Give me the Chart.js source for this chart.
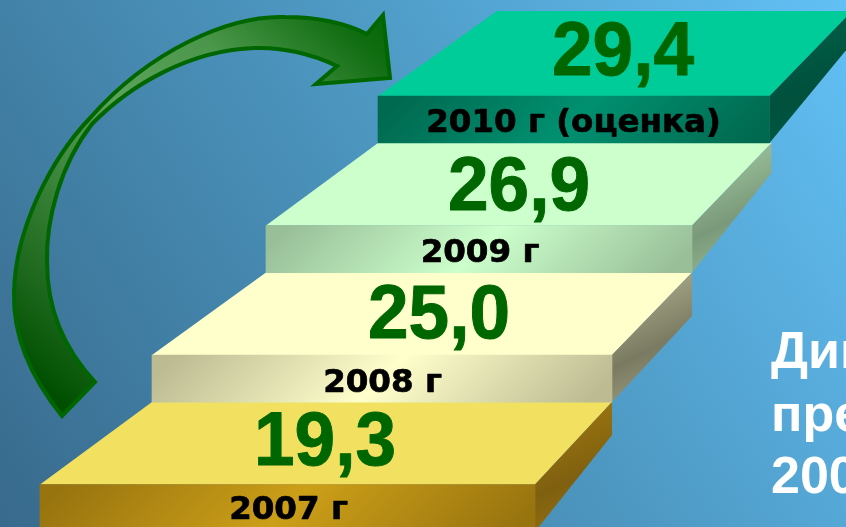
<!DOCTYPE html>
<html lang="ru">
<head>
<meta charset="utf-8">
<style>
  html, body { margin: 0; padding: 0; overflow: hidden; background: #4b94bd; }
  canvas { display: block; }
</style>
<script src="https://cdn.jsdelivr.net/npm/chart.js@4"></script>
</head>
<body>
<canvas id="grafico" width="846" height="527"></canvas>
<script>
// Данные
const anos = [2007, 2008, 2009, 2010];
const valores = [19.3, 25.0, 26.9, 29.4];
const rotulos = ["2007 г", "2008 г", "2009 г", "2010 г (оценка)"];
const textoLado = ["Дин", "пре", "200"];

// Onde cada degrau fica (layout, nao dados)
const degrauEsq = [40, 152, 266, 378];
const degrauDir = [535, 612, 692, 769.5];
const fundoDir = [612, 692, 771.5, 852];
const fundoDegrau = [435, 316, 173, 43];
const valorX = [325, 439, 519, 623];
const valorY = [465, 338, 210, 75];
const rotuloX = [288.5, 382.5, 480, 573.5];
const rotuloY = [519, 392, 262, 132];
const fundoTopo = { esq: 497, y: 11 };

const corTopo = ["#f2e060", "#ffffcc", "#ccffcc", "#00cc99"];
const corFrenteBorda = ["#98740f", "#bdbb92", "#99bf99", "#006a50"];
const corFrenteMeio = ["#cc9f18", "#ffffcc", "#ccffcc", "#009070"];
const corLadoBorda = ["#99730f", "#a3a384", "#99bf99", "#005f46"];
const corLadoMeio = ["#7f6010", "#7a7a62", "#7a997a", "#00503c"];

function gradienteFrente(context) {
  const chart = context.chart;
  const i = context.dataIndex;
  if (!chart.scales.x || i === undefined) return corFrenteMeio[0];
  const x0 = chart.scales.x.getPixelForValue(degrauEsq[i]);
  const x1 = chart.scales.x.getPixelForValue(degrauDir[i]);
  const y = chart.scales.y.getPixelForValue(anos[i]);
  if (!isFinite(x0) || !isFinite(x1) || !isFinite(y)) return corFrenteMeio[i];
  // faixa clara na diagonal
  const meio = (x0 + x1) / 2;
  const d = (x1 - x0) / 4;
  const g = chart.ctx.createLinearGradient(meio - d, y - d, meio + d, y + d);
  g.addColorStop(0, corFrenteBorda[i]);
  g.addColorStop(0.5, corFrenteMeio[i]);
  g.addColorStop(1, corFrenteBorda[i]);
  return g;
}

function poligono(ctx, pts, fill) {
  ctx.beginPath();
  ctx.moveTo(pts[0][0], pts[0][1]);
  pts.slice(1).forEach(p => ctx.lineTo(p[0], p[1]));
  ctx.closePath();
  ctx.fillStyle = fill;
  ctx.fill();
}

function desenharSeta(ctx) {
  ctx.beginPath();
  ctx.moveTo(62, 416);
  ctx.bezierCurveTo(25, 370, 13, 330, 14, 293);
  ctx.bezierCurveTo(15, 230, 50, 160, 90, 118);
  ctx.bezierCurveTo(150, 50, 230, 15, 285, 17);
  ctx.bezierCurveTo(315, 17, 345, 23, 367, 34);
  ctx.lineTo(383, 15);
  ctx.lineTo(390, 78);
  ctx.lineTo(316, 84);
  ctx.lineTo(337, 66);
  ctx.bezierCurveTo(310, 53, 280, 47, 255, 48);
  ctx.bezierCurveTo(190, 50, 130, 85, 92, 124);
  ctx.bezierCurveTo(60, 165, 46, 220, 47, 262);
  ctx.bezierCurveTo(47, 310, 65, 350, 95, 382);
  ctx.closePath();
  const g = ctx.createLinearGradient(70, 410, 420, 20);
  g.addColorStop(0, "#004f00");
  g.addColorStop(0.15, "#1f6a1f");
  g.addColorStop(0.5, "#5ca35c");
  g.addColorStop(0.7, "#4a964a");
  g.addColorStop(0.9, "#0f6c0f");
  g.addColorStop(1, "#006600");
  ctx.fillStyle = g;
  ctx.fill();
  ctx.lineWidth = 4;
  ctx.lineJoin = "miter";
  ctx.strokeStyle = "#006600";
  ctx.stroke();
}

const pluginEscada = {
  id: "escada",
  beforeDraw(chart) {
    const { ctx, width, height } = chart;
    const g = ctx.createLinearGradient(0, height, width, 0);
    g.addColorStop(0, "#386a8c");
    g.addColorStop(0.5, "#4b94bd");
    g.addColorStop(1, "#62c0f5");
    ctx.fillStyle = g;
    ctx.fillRect(0, 0, width, height);
  },
  beforeDatasetsDraw(chart) {
    const { ctx } = chart;
    const barras = chart.getDatasetMeta(0).data;
    barras.forEach((b, i) => {
      const p = b.getProps(["x", "y", "base", "height"], true);
      const topo = p.y - p.height / 2;
      const baixo = p.y + p.height / 2;
      const prox = barras[i + 1] ? barras[i + 1].getProps(["x", "y", "base", "height"], true) : null;
      const fundo = prox
        ? { esq: prox.base, dir: fundoDir[i], y: prox.y + prox.height / 2 }
        : { esq: fundoTopo.esq, dir: fundoDir[i], y: fundoTopo.y };
      // topo do degrau
      poligono(ctx, [[p.base, topo], [p.x, topo], [fundo.dir, fundo.y], [fundo.esq, fundo.y]], corTopo[i]);
      // lado direito
      const g = ctx.createLinearGradient(p.x + 25, fundo.y + 20, fundo.dir - 5, baixo - 5);
      g.addColorStop(0, corLadoBorda[i]);
      g.addColorStop(0.5, corLadoMeio[i]);
      g.addColorStop(1, corLadoBorda[i]);
      poligono(ctx, [[p.x, topo], [fundo.dir, fundo.y], [fundo.dir, fundoDegrau[i]], [p.x, baixo]], g);
    });
    desenharSeta(ctx);
  },
  afterDatasetsDraw(chart) {
    const { ctx } = chart;
    ctx.save();
    ctx.textAlign = "center";
    ctx.textBaseline = "alphabetic";
    ctx.lineJoin = "round";
    valores.forEach((v, i) => {
      const txt = v.toFixed(1).replace(".", ",");
      // numero um pouco mais alto que largo
      ctx.save();
      ctx.translate(valorX[i], valorY[i]);
      ctx.scale(0.96, 1);
      ctx.font = "bold 76px 'Liberation Sans'";
      ctx.fillStyle = "#006600";
      ctx.strokeStyle = "#006600";
      ctx.lineWidth = 1;
      ctx.fillText(txt, 0, 0);
      ctx.strokeText(txt, 0, 0);
      ctx.restore();
      ctx.font = "bold 32.5px 'DejaVu Sans'";
      ctx.fillStyle = "#000000";
      ctx.strokeStyle = "#000000";
      ctx.lineWidth = 0.7;
      ctx.fillText(rotulos[i], rotuloX[i], rotuloY[i]);
      ctx.strokeText(rotulos[i], rotuloX[i], rotuloY[i]);
    });
    ctx.textAlign = "left";
    ctx.font = "bold 52px 'Liberation Sans'";
    ctx.fillStyle = "#ffffff";
    textoLado.forEach((t, i) => ctx.fillText(t, 771, 368 + i * 62.5));
    ctx.restore();
  }
};

new Chart(document.getElementById("grafico"), {
  type: "bar",
  data: {
    datasets: [{
      label: "Динамика",
      data: anos.map((a, i) => ({ x: [degrauEsq[i], degrauDir[i]], y: a })),
      backgroundColor: gradienteFrente,
      borderWidth: 0,
      barThickness: 47
    }]
  },
  options: {
    indexAxis: "y",
    responsive: false,
    animation: false,
    layout: { padding: 0 },
    scales: {
      x: { type: "linear", display: false, min: 0, max: 846 },
      y: { type: "linear", display: false, offset: false, min: 2006.854, max: 2010.923 }
    },
    plugins: { legend: { display: false }, tooltip: { enabled: false } }
  },
  plugins: [pluginEscada]
});
</script>
</body>
</html>
